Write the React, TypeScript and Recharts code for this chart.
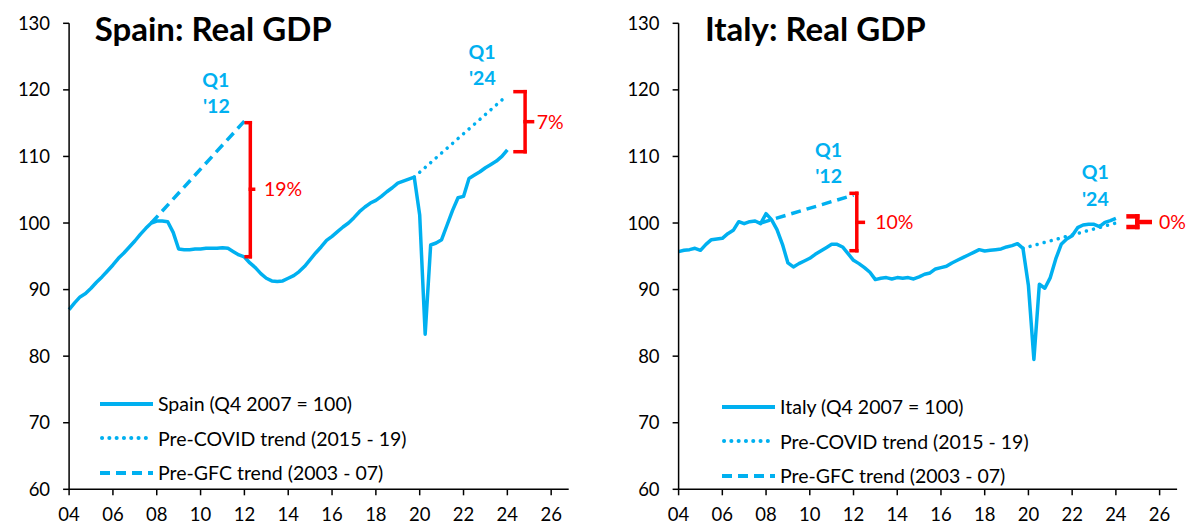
import React from 'react';
import {
  LineChart,
  Line,
  XAxis,
  YAxis,
  ReferenceLine,
  ReferenceDot,
  Legend,
} from 'recharts';

// quarterly index, Q4 2007 = 100, from Q1 2004 to Q1 2024
const spainGdp = [
  87.0, 88.0, 88.9, 89.4,
  90.2, 91.1, 91.9, 92.8,
  93.7, 94.7, 95.5, 96.4,
  97.3, 98.3, 99.2, 100.0,
  100.3, 100.3, 100.2, 98.6,
  96.1, 96.0, 96.0, 96.1,
  96.1, 96.2, 96.2, 96.2,
  96.3, 96.2, 95.7, 95.2,
  94.9, 94.0, 93.3, 92.4,
  91.7, 91.3, 91.2, 91.3,
  91.7, 92.1, 92.7, 93.5,
  94.5, 95.5, 96.4, 97.4,
  98.0, 98.7, 99.4, 100.0,
  100.8, 101.7, 102.4, 103.0,
  103.4, 104.0, 104.7, 105.3,
  106.0, 106.3, 106.6, 106.9,
  101.2, 83.3, 96.7, 97.0,
  97.5, 99.7, 101.9, 103.8,
  104.0, 106.7, 107.2, 107.7,
  108.3, 108.8, 109.3, 110.0,
  111.0,
];

const italyGdp = [
  95.7, 95.9, 96.0, 96.2,
  95.9, 96.8, 97.5, 97.6,
  97.7, 98.4, 98.9, 100.2,
  99.9, 100.2, 100.3, 99.9,
  101.4, 100.5, 99.0, 96.8,
  94.0, 93.4, 93.9, 94.3,
  94.7, 95.3, 95.8, 96.3,
  96.8, 96.8, 96.4, 95.4,
  94.4, 93.9, 93.3, 92.6,
  91.5, 91.7, 91.8, 91.6,
  91.8, 91.7, 91.8, 91.6,
  91.9, 92.3, 92.5, 93.1,
  93.3, 93.5, 94.0, 94.4,
  94.8, 95.2, 95.6, 96.0,
  95.8, 95.9, 96.0, 96.1,
  96.4, 96.6, 96.9, 96.2,
  90.6, 79.5, 90.8, 90.2,
  91.8, 94.6, 96.8, 97.6,
  98.1, 99.3, 99.7, 99.8,
  99.8, 99.45, 100.1, 100.35,
  100.7,
];

// trend end points (quarter, level)
const gfcTrendAt = [2007.75, 2012.0];
const spainGfcTrend = [100.0, 115.3];
const italyGfcTrend = [100.0, 104.2];
const covidTrendAt = [2019.75, 2024.0];
const spainCovidTrend = [106.9, 119.2];
const italyCovidTrend = [96.2, 100.0];

const yTicks = [60, 70, 80, 90, 100, 110, 120, 130];
const xTicks = [2004, 2006, 2008, 2010, 2012, 2014, 2016, 2018, 2020, 2022, 2024, 2026];

const quarters: number[] = [];
for (let i = 0; i < spainGdp.length; i++) quarters.push(2004 + i / 4);

const BLUE = '#00B0F0';
const RED = '#FF0000';
const FONT = 'Lato, "Open Sans", sans-serif';

function buildRows(gdp: number[], gfc: number[], covid: number[]) {
  return quarters.map((t, i) => {
    const g = gfcTrendAt.indexOf(t);
    const c = covidTrendAt.indexOf(t);
    return {
      t,
      gdp: gdp[i],
      gfc: g >= 0 ? gfc[g] : null,
      covid: c >= 0 ? covid[c] : null,
    };
  });
}

const spainRows = buildRows(spainGdp, spainGfcTrend, spainCovidTrend);
const italyRows = buildRows(italyGdp, italyGfcTrend, italyCovidTrend);

type Seg = [number, number, number, number];

// bracket: vertical at xv from top to bottom, ends pointing left to xl, middle nib to xm at ym
function bracket(xv: number, top: number, bottom: number, xl: number, xm: number, ym: number): Seg[] {
  return [
    [xl, top, xv, top],
    [xv, top, xv, bottom],
    [xl, bottom, xv, bottom],
    [xv, ym, xm, ym],
  ];
}

type Note = { x: number; y: number; text: string; color: string; bold?: boolean; anchor: 'middle' | 'start' };

const spainNotes: Note[] = [
  { x: 2010.7, y: 121.6, text: 'Q1', color: BLUE, bold: true, anchor: 'middle' },
  { x: 2010.72, y: 117.7, text: "'12", color: BLUE, bold: true, anchor: 'middle' },
  { x: 2022.84, y: 125.7, text: 'Q1', color: BLUE, bold: true, anchor: 'middle' },
  { x: 2022.86, y: 121.9, text: "'24", color: BLUE, bold: true, anchor: 'middle' },
  { x: 2012.89, y: 105.2, text: '19%', color: RED, anchor: 'start' },
  { x: 2025.34, y: 115.3, text: '7%', color: RED, anchor: 'start' },
];

const italyNotes: Note[] = [
  { x: 2010.86, y: 111.0, text: 'Q1', color: BLUE, bold: true, anchor: 'middle' },
  { x: 2010.86, y: 107.1, text: "'12", color: BLUE, bold: true, anchor: 'middle' },
  { x: 2023.06, y: 107.7, text: 'Q1', color: BLUE, bold: true, anchor: 'middle' },
  { x: 2023.06, y: 103.7, text: "'24", color: BLUE, bold: true, anchor: 'middle' },
  { x: 2012.99, y: 100.2, text: '10%', color: RED, anchor: 'start' },
  { x: 2025.97, y: 100.2, text: '0%', color: RED, anchor: 'start' },
];

const spainBrackets = [
  ...bracket(2012.27, 115.07, 94.94, 2012.08, 2012.42, 105.07),
  ...bracket(2024.81, 119.73, 110.71, 2024.35, 2025.15, 115.22),
];
const italyBrackets = [
  ...bracket(2012.15, 104.46, 95.84, 2011.89, 2012.45, 100.1),
  ...bracket(2024.98, 101.0, 99.4, 2024.58, 2025.55, 100.15),
];

const DOTTED = '0.1 7.2';
const DASHED = '10 6';

function LegendBox({ items }: { items: { label: string; dash?: string }[] }) {
  return (
    <div style={{ fontFamily: FONT, fontSize: 19.5, color: '#000' }}>
      {items.map((it) => (
        <div key={it.label} style={{ display: 'flex', alignItems: 'center', height: 34.5, whiteSpace: 'nowrap' }}>
          <svg width={53} height={10} style={{ marginRight: 5 }}>
            <line
              x1={it.dash === DOTTED ? 2 : 0}
              y1={5}
              x2={53}
              y2={5}
              stroke={BLUE}
              strokeWidth={4}
              strokeDasharray={it.dash}
              strokeLinecap={it.dash === DOTTED ? 'round' : 'butt'}
            />
          </svg>
          <span>{it.label}</span>
        </div>
      ))}
    </div>
  );
}

type PanelProps = {
  rows: any[];
  title: string;
  country: string;
  left: number;
  yAxisWidth: number;
  rightMargin: number;
  legendLeft: number;
  legendTop: number;
  titleLeft: number;
  notes: Note[];
  brackets: Seg[];
  thickLast?: boolean;
};

function Panel(p: PanelProps) {
  const legendItems = [
    { label: `${p.country} (Q4 2007 = 100)` },
    { label: 'Pre-COVID trend (2015 - 19)', dash: DOTTED },
    { label: 'Pre-GFC trend (2003 - 07)', dash: DASHED },
  ];
  return (
    <div style={{ position: 'absolute', left: p.left, top: 0, width: 600, height: 532 }}>
      <LineChart
        width={600}
        height={532}
        data={p.rows}
        margin={{ top: 23.3, right: p.rightMargin, bottom: 12.7, left: 0 }}
      >
        <XAxis
          dataKey="t"
          type="number"
          domain={[2004, 2026.8]}
          ticks={xTicks}
          interval={0}
          tickFormatter={(v: number) => String(v).slice(2)}
          height={30}
          tickSize={6}
          tickMargin={13}
          axisLine={{ stroke: '#000', strokeWidth: 1.5 }}
          tickLine={{ stroke: '#000', strokeWidth: 1.5 }}
          tick={{ fill: '#000', fontSize: 18.5, fontFamily: FONT }}
        />
        <YAxis
          type="number"
          domain={[60, 130]}
          ticks={yTicks}
          interval={0}
          width={p.yAxisWidth}
          tickSize={6}
          tickMargin={13}
          axisLine={{ stroke: '#000', strokeWidth: 1.5 }}
          tickLine={{ stroke: '#000', strokeWidth: 1.5 }}
          tick={{ fill: '#000', fontSize: 18.5, fontFamily: FONT }}
        />
        <Line
          dataKey="gfc"
          type="linear"
          stroke={BLUE}
          strokeWidth={3.5}
          strokeDasharray={DASHED}
          dot={false}
          connectNulls
          isAnimationActive={false}
        />
        <Line
          dataKey="covid"
          type="linear"
          stroke={BLUE}
          strokeWidth={3.5}
          strokeDasharray={DOTTED}
          strokeLinecap="round"
          dot={false}
          connectNulls
          isAnimationActive={false}
        />
        <Line
          dataKey="gdp"
          type="linear"
          stroke={BLUE}
          strokeWidth={3.5}
          strokeLinejoin="round"
          dot={false}
          isAnimationActive={false}
        />
        {p.brackets.map((s, i) => (
          <ReferenceLine
            key={`b-${i}`}
            segment={[{ x: s[0], y: s[1] }, { x: s[2], y: s[3] }]}
            stroke={RED}
            strokeWidth={p.thickLast && i >= 4 ? 4.5 : 3.5}
            strokeLinecap="square"
            ifOverflow="visible"
          />
        ))}
        {p.notes.map((n, i) => (
          <ReferenceDot
            key={`n-${i}`}
            x={n.x}
            y={n.y}
            r={0}
            fill="none"
            stroke="none"
            ifOverflow="visible"
            label={{
              content: (props: any) => {
                const vb = props.viewBox || {};
                const cx = (vb.x ?? 0) + (vb.width ?? 0) / 2;
                const cy = (vb.y ?? 0) + (vb.height ?? 0) / 2;
                return (
                  <text
                    x={cx}
                    y={cy}
                    textAnchor={n.anchor}
                    dominantBaseline="central"
                    fill={n.color}
                    fontSize={19.5}
                    fontWeight={n.bold ? 700 : 400}
                    fontFamily={FONT}
                  >
                    {n.text}
                  </text>
                );
              },
            }}
          />
        ))}
        <Legend
          layout="vertical"
          align="center"
          verticalAlign="middle"
          wrapperStyle={{ left: p.legendLeft, top: p.legendTop, width: 'auto' }}
          content={() => <LegendBox items={legendItems} />}
        />
      </LineChart>
      <div
        style={{
          position: 'absolute',
          left: p.titleLeft,
          top: 12,
          fontFamily: FONT,
          fontWeight: 700,
          fontSize: 33,
          lineHeight: '33px',
          color: '#000',
          whiteSpace: 'nowrap',
        }}
      >
        {p.title}
      </div>
    </div>
  );
}

export default function App() {
  return (
    <div style={{ position: 'absolute', left: 0, top: 0, width: 1200, height: 532, background: '#fff', fontFamily: FONT }}>
      <Panel
        rows={spainRows}
        title="Spain: Real GDP"
        country="Spain"
        left={0}
        yAxisWidth={69.1}
        rightMargin={31.3}
        legendLeft={100}
        legendTop={386.7}
        titleLeft={94.7}
        notes={spainNotes}
        brackets={spainBrackets}
      />
      <Panel
        rows={italyRows}
        title="Italy: Real GDP"
        country="Italy"
        left={600}
        yAxisWidth={78.6}
        rightMargin={22.9}
        legendLeft={122.1}
        legendTop={389.5}
        titleLeft={105}
        notes={italyNotes}
        brackets={italyBrackets}
        thickLast
      />
    </div>
  );
}
